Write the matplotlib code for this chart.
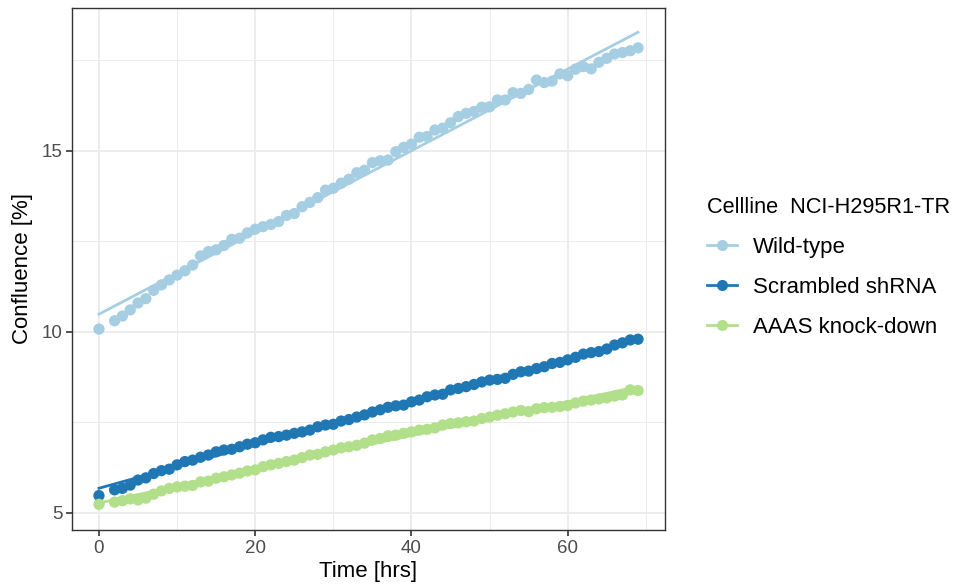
import numpy as np
import matplotlib
matplotlib.use("Agg")
import matplotlib.pyplot as plt
from matplotlib.lines import Line2D

plt.rcParams['font.family'] = ['Liberation Sans', 'DejaVu Sans']

####################################################################################################
# dados lidos do grafico (confluencia %, medida de hora em hora, sem a hora 1)

tempo = [0] + list(range(2, 70))

wild_type = [10.08, 10.31, 10.44, 10.61, 10.80, 10.92, 11.15, 11.30, 11.44, 11.57,
             11.69, 11.85, 12.10, 12.22, 12.27, 12.39, 12.56, 12.59, 12.74, 12.84,
             12.91, 12.97, 13.05, 13.22, 13.27, 13.46, 13.58, 13.71, 13.92, 13.97,
             14.11, 14.22, 14.40, 14.47, 14.68, 14.73, 14.75, 14.98, 15.10, 15.19,
             15.38, 15.40, 15.58, 15.63, 15.78, 15.95, 16.04, 16.09, 16.21, 16.22,
             16.41, 16.41, 16.61, 16.59, 16.70, 16.96, 16.89, 16.93, 17.13, 17.08,
             17.26, 17.33, 17.27, 17.45, 17.56, 17.68, 17.72, 17.77, 17.85]

scrambled = [5.48, 5.64, 5.68, 5.77, 5.91, 5.97, 6.09, 6.17, 6.21, 6.33,
             6.42, 6.46, 6.54, 6.60, 6.69, 6.74, 6.76, 6.83, 6.90, 6.94,
             7.02, 7.09, 7.11, 7.15, 7.20, 7.24, 7.29, 7.38, 7.43, 7.45,
             7.54, 7.58, 7.65, 7.71, 7.79, 7.85, 7.92, 7.96, 7.98, 8.07,
             8.12, 8.21, 8.26, 8.28, 8.40, 8.44, 8.49, 8.55, 8.62, 8.67,
             8.69, 8.72, 8.83, 8.90, 8.92, 8.99, 9.04, 9.13, 9.16, 9.23,
             9.30, 9.39, 9.43, 9.46, 9.53, 9.64, 9.70, 9.78, 9.80]

aaas = [5.24, 5.30, 5.34, 5.39, 5.36, 5.41, 5.52, 5.61, 5.68, 5.72,
        5.74, 5.76, 5.86, 5.88, 5.96, 6.00, 6.05, 6.10, 6.16, 6.19,
        6.28, 6.33, 6.37, 6.42, 6.46, 6.53, 6.60, 6.62, 6.69, 6.74,
        6.80, 6.83, 6.87, 6.93, 7.02, 7.06, 7.13, 7.15, 7.20, 7.24,
        7.29, 7.31, 7.35, 7.43, 7.47, 7.49, 7.52, 7.54, 7.61, 7.65,
        7.70, 7.74, 7.79, 7.83, 7.80, 7.88, 7.91, 7.92, 7.94, 7.97,
        8.04, 8.09, 8.12, 8.15, 8.18, 8.23, 8.26, 8.40, 8.38]

nomes = ['Wild-type', 'Scrambled shRNA', 'AAAS knock-down']
cores = ['#A6CEE3', '#1F78B4', '#B2DF8A']

####################################################################################################
# plotagem estilo theme_bw

fig = plt.figure(figsize=(9.59, 5.84), dpi=100)
ax = fig.add_axes([72/959, 1 - 530/584, (665 - 72)/959, (530 - 8)/584])

x = np.array(tempo, dtype=float)
for serie, cor in zip([wild_type, scrambled, aaas], cores):
    y = np.array(serie)
    ax.scatter(x, y, s=66, color=cor, edgecolors='none', zorder=3)
    # reta de regressao linear (lm)
    coef = np.polyfit(x, y, 1)
    ax.plot(x, np.polyval(coef, x), color=cor, lw=2, zorder=4)

ax.set_xlim(-3.45, 72.45)
ax.set_ylim(4.53, 18.95)
ax.set_xticks([0, 20, 40, 60])
ax.set_xticks([10, 30, 50, 70], minor=True)
ax.set_yticks([5, 10, 15])
ax.set_yticks([7.5, 12.5, 17.5], minor=True)

ax.grid(True, which='major', color='#EBEBEB', lw=1.3, zorder=0)
ax.grid(True, which='minor', color='#EBEBEB', lw=0.7, zorder=0)
ax.set_axisbelow(True)
for s in ax.spines.values():
    s.set_color('#333333')
    s.set_linewidth(1.0)
ax.tick_params(which='major', length=4, width=1.2, color='#333333',
               labelsize=13.5, labelcolor='#4D4D4D', pad=3)
ax.tick_params(which='minor', length=0)

ax.set_xlabel('Time [hrs]', fontsize=16, color='black', labelpad=3)
ax.set_ylabel('Confluence [%]', fontsize=16, color='black', labelpad=6)

handles = [Line2D([0], [0], color=c, lw=2, marker='o', markersize=8,
                  markeredgewidth=0) for c in cores]
leg = fig.legend(handles, nomes, title='Cellline  NCI-H295R1-TR',
                 loc='upper left', bbox_to_anchor=(707/959, 1 - 197/584),
                 frameon=False, fontsize=16, title_fontsize=15.7, borderpad=0,
                 borderaxespad=0, handlelength=1.35, handletextpad=0.72,
                 labelspacing=0.85, alignment='left')

fig.savefig('out.png', dpi=100)
